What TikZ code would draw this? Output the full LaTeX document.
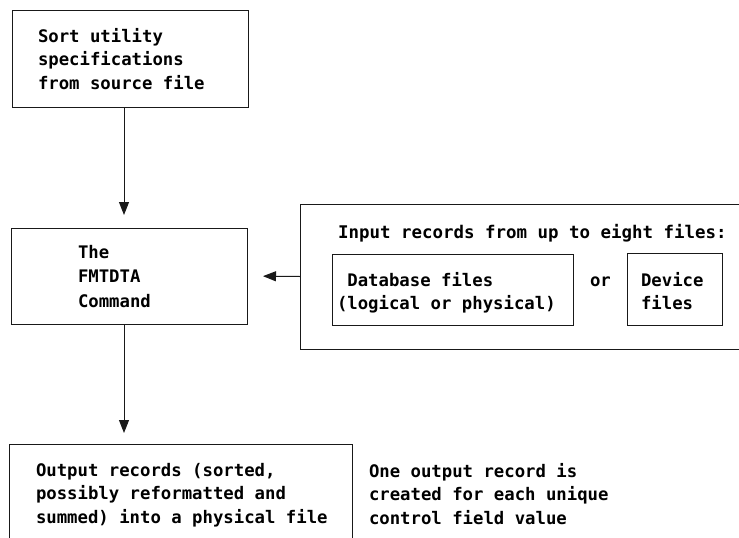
\documentclass[tikz,border=0pt]{standalone}
\usepackage{fontspec}
\usetikzlibrary{arrows.meta}
\newfontfamily\boxfont{DejaVu Sans Mono}
\begin{document}
\begin{tikzpicture}[x=1pt,y=-1pt,
  frame/.style={draw=black!90, line width=1pt, inner sep=0pt, outer sep=0pt},
  open/.style={inner sep=0pt, outer sep=0pt},
  edge/.style={draw=black!90, line width=1pt},
  txt/.style={anchor=north west, inner sep=0pt, outer sep=0pt, align=left,
    font=\boxfont\bfseries\fontsize{17.3}{23.5}\selectfont,
    execute at begin node={\rule{0pt}{14pt}}},
  flow/.style={edge, -{Triangle[length=13pt,width=10pt]}}]
\useasboundingbox (0,0) rectangle (739,538);

% boxes
\node[frame, minimum width=236pt, minimum height=97pt] (src) at (130,58.5) {};
\node[frame, minimum width=236pt, minimum height=96pt] (fmt) at (129,276) {};
\node[open, minimum width=440pt, minimum height=145pt] (input) at (520,276.5) {};
\draw[edge] (input.north east) -- (input.north west) -- (input.south west) -- (input.south east);
\node[frame, minimum width=241pt, minimum height=71pt] (db) at (452.5,289.5) {};
\node[frame, minimum width=95pt, minimum height=72pt] (dev) at (674.5,289.5) {};
\node[open, minimum width=343pt, minimum height=95pt] (out) at (180.5,491.5) {};
\draw[edge] (out.south west) -- (out.north west) -- (out.north east) -- (out.south east);

% texts
\node[txt] (srctext) at (38,28) {Sort utility\\specifications\\from source file};
\node[txt, font=\boxfont\bfseries\fontsize{17.3}{24.5}\selectfont] (fmttext) at (78,245) {The\\FMTDTA\\Command};
\node[txt, font=\boxfont\bfseries\fontsize{17.45}{23.5}\selectfont] (intitle) at (338,224) {Input records from up to eight files:};
\node[txt] (dbtext) at (337,272) {\hphantom{(}Database files\\(logical or physical)};
\node[txt] (ortext) at (590,272) {or};
\node[txt] (devtext) at (641,272) {Device\\files};
\node[txt] (outtext) at (36,463) {Output records (sorted,\\possibly reformatted and\\summed) into a physical file};
\node[txt] (note) at (369,463) {One output record is\\created for each unique\\control field value};

% connectors
\draw[flow, shorten >=13pt] ([xshift=-6pt]src.south) -- ([xshift=-6pt]src.south |- fmt.north);
\draw[flow, shorten >=16pt] (input.west) -- (fmt.east);
\draw[flow, shorten >=11pt] ([xshift=-5pt]fmt.south) -- ([xshift=-5pt]fmt.south |- out.north);
\end{tikzpicture}
\end{document}
